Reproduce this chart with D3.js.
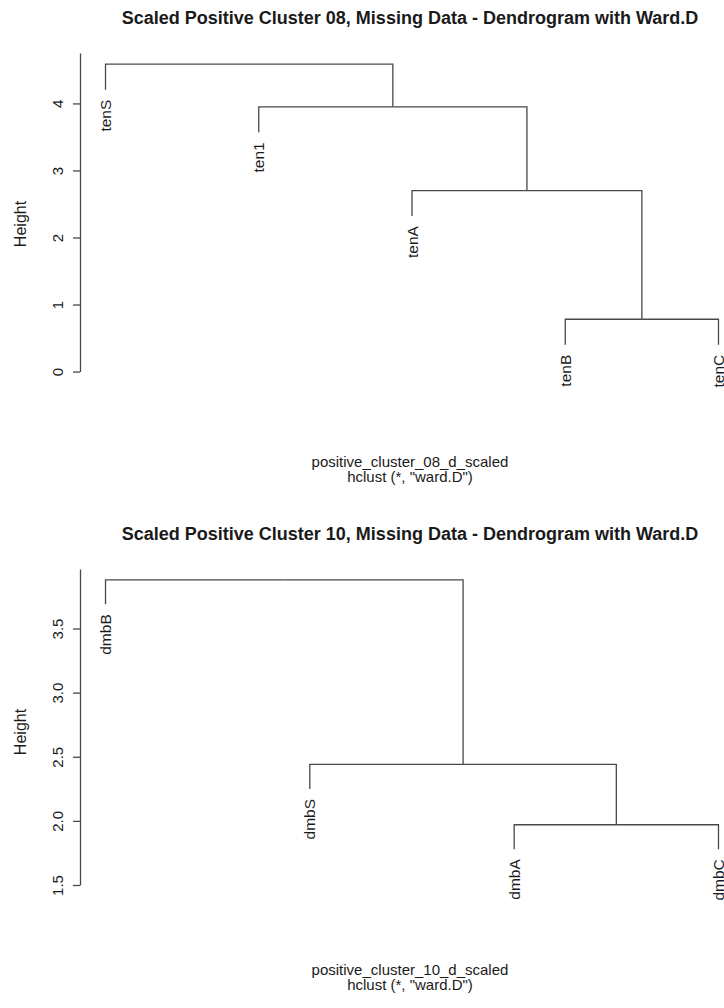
<!DOCTYPE html>
<html>
<head>
<meta charset="utf-8">
<script src="https://cdn.jsdelivr.net/npm/d3@7"></script>
<style>
  html, body { margin: 0; padding: 0; background: #fff; }
  svg { display: block; font-family: "Liberation Sans", Arial, sans-serif; }
</style>
</head>
<body>
<svg id="chart" width="724" height="1008"></svg>
<script>
// ---- Cluster 08: leaf order, merge table (R hclust convention: negative = leaf), merge heights
const labels08 = ["tenS", "ten1", "tenA", "tenB", "tenC"];
const merge08 = [[-4, -5], [-3, 1], [-2, 2], [-1, 3]];
const heights08 = [0.78, 2.70, 3.95, 4.585];
const ticks08 = [0, 1, 2, 3, 4];
const tickLabels08 = ["0", "1", "2", "3", "4"];

// ---- Cluster 10
const labels10 = ["dmbB", "dmbS", "dmbA", "dmbC"];
const merge10 = [[-3, -4], [-2, 1], [-1, 2]];
const heights10 = [1.97, 2.44, 3.88];
const ticks10 = [1.5, 2.0, 2.5, 3.0, 3.5];
const tickLabels10 = ["1.5", "2.0", "2.5", "3.0", "3.5"];

const titles = [
  "Scaled Positive Cluster 08, Missing Data - Dendrogram with Ward.D",
  "Scaled Positive Cluster 10, Missing Data - Dendrogram with Ward.D"
];
const subtitles = ["positive_cluster_08_d_scaled", "positive_cluster_10_d_scaled"];
const methodLine = "hclust (*, \"ward.D\")";

const svg = d3.select("#chart");
const LINE = "#484848";
const TEXT = "#1a1a1a";
const BASE = 15;

// Turn an hclust-style merge table into a nested tree for d3.hierarchy
function buildTree(labels, merge, heights) {
  const nodes = [];
  merge.forEach((pair, i) => {
    const kids = pair.map(k => k < 0 ? { name: labels[-k - 1], height: null } : nodes[k - 1]);
    nodes.push({ name: "m" + (i + 1), height: heights[i], children: kids });
  });
  return nodes[nodes.length - 1];
}

function drawPanel(cfg) {
  const { labels, merge, heights, ticks, tickLabels, title, subtitle, layout } = cfg;
  const g = svg.append("g");

  const n = labels.length;
  const hMin = d3.min(heights), hMax = d3.max(heights);
  const hang = 0.1 * (hMax - hMin);
  // y limits like plot.hclust, widened by 4% on each side
  const ylo = hMin - hang, yhi = hMax;
  const ypad = 0.04 * (yhi - ylo);
  const y = d3.scaleLinear()
    .domain([ylo - ypad, yhi + ypad])
    .range([layout.plotBottom, layout.plotTop]);

  const xpad = 0.04 * (n - 1);
  const x = d3.scaleLinear()
    .domain([1 - xpad, n + xpad])
    .range([layout.plotLeft, layout.plotRight]);

  const root = d3.hierarchy(buildTree(labels, merge, heights));
  root.leaves().forEach(leaf => { leaf.px = x(labels.indexOf(leaf.data.name) + 1); });
  root.eachAfter(node => {
    if (node.children) node.px = d3.mean(node.children, c => c.px);
  });

  // Dendrogram links: horizontal bar at parent height, vertical drop to each child
  const links = g.append("g").attr("fill", "none").attr("stroke", LINE).attr("stroke-width", 1.3);
  root.descendants().filter(d => d.children).forEach(p => {
    const yp = y(p.data.height);
    p.children.forEach(c => {
      const yc = c.children ? y(c.data.height) : y(p.data.height - hang);
      links.append("path").attr("d", `M${p.px},${yp}H${c.px}V${yc}`);
    });
  });

  // Leaf labels, rotated, hanging below each leaf end
  root.leaves().forEach(leaf => {
    const yEnd = y(leaf.parent.data.height - hang) + 10;
    g.append("text")
      .attr("transform", `translate(${leaf.px},${yEnd}) rotate(-90)`)
      .attr("text-anchor", "end")
      .attr("dy", "0.36em")
      .attr("font-size", BASE + 0.5)
      .attr("fill", TEXT)
      .text(leaf.data.name);
  });

  // Height axis: runs from the lowest tick up to the top of the plot region
  const axisScale = y.copy().domain([ticks[0], y.domain()[1]])
    .range([y(ticks[0]), y.range()[1]]);
  const axis = d3.axisLeft(axisScale)
    .tickValues(ticks)
    .tickFormat((d, i) => tickLabels[i])
    .tickSizeInner(7)
    .tickSizeOuter(0);
  const ax = g.append("g")
    .attr("transform", `translate(${layout.plotLeft - 1},0)`)
    .call(axis);
  ax.select(".domain").attr("stroke", LINE).attr("stroke-width", 1.3);
  ax.selectAll(".tick line").attr("stroke", LINE).attr("stroke-width", 1.3);
  ax.selectAll(".tick text")
    .attr("font-family", "Liberation Sans, Arial, sans-serif")
    .attr("font-size", BASE)
    .attr("fill", TEXT)
    .attr("x", null).attr("dy", null)
    .attr("text-anchor", "middle")
    .attr("transform", "translate(-23,0) rotate(-90)")
    .attr("dominant-baseline", "central");

  g.append("text")
    .attr("transform", `translate(20,${layout.heightLabelY}) rotate(-90)`)
    .attr("text-anchor", "middle")
    .attr("dominant-baseline", "central")
    .attr("font-size", BASE + 1)
    .attr("fill", TEXT)
    .text("Height");

  const cx = (layout.plotLeft + layout.plotRight) / 2 - 2;
  g.append("text")
    .attr("x", cx).attr("y", layout.titleY)
    .attr("text-anchor", "middle")
    .attr("font-size", BASE * 1.2)
    .attr("font-weight", "bold")
    .attr("fill", TEXT)
    .text(title);

  g.append("text")
    .attr("x", cx).attr("y", layout.subY)
    .attr("text-anchor", "middle")
    .attr("font-size", BASE)
    .attr("fill", TEXT)
    .text(subtitle);
  g.append("text")
    .attr("x", cx).attr("y", layout.subY + 15)
    .attr("text-anchor", "middle")
    .attr("font-size", BASE)
    .attr("fill", TEXT)
    .text(methodLine);
}

drawPanel({
  labels: labels08, merge: merge08, heights: heights08,
  ticks: ticks08, tickLabels: tickLabels08,
  title: titles[0], subtitle: subtitles[0],
  layout: { plotLeft: 81, plotRight: 743, plotTop: 53, plotBottom: 356,
            titleY: 24, subY: 467, heightLabelY: 224 }
});

drawPanel({
  labels: labels10, merge: merge10, heights: heights10,
  ticks: ticks10, tickLabels: tickLabels10,
  title: titles[1], subtitle: subtitles[1],
  layout: { plotLeft: 81, plotRight: 743, plotTop: 569, plotBottom: 860,
            titleY: 540, subY: 975, heightLabelY: 732 }
});
</script>
</body>
</html>
